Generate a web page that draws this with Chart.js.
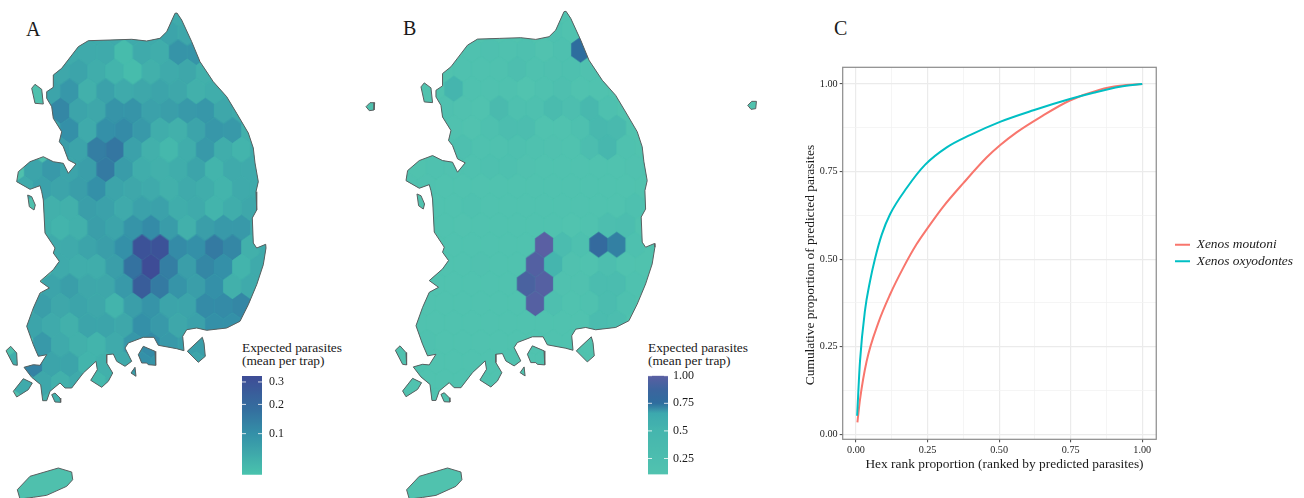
<!DOCTYPE html>
<html>
<head>
<meta charset="utf-8">
<title>Expected parasites</title>
<script src="https://cdn.jsdelivr.net/npm/chart.js@4"></script>
<style>
  html, body { margin: 0; background: #fff; }
  body { position: relative; width: 1304px; height: 498px; overflow: hidden; font-family: "Liberation Serif", serif; color: #1a1a1a; }
  canvas { position: absolute; }
  #mapA, #mapB { filter: blur(0.4px); }
  .letter { position: absolute; font-size: 20px; line-height: 20px; }
  .legend-title { position: absolute; font-size: 13.4px; line-height: 13px; white-space: nowrap; }
</style>
</head>
<body>
<div class="letter" style="left:26px;top:19px">A</div>
<div class="letter" style="left:403px;top:18px">B</div>
<div class="letter" style="left:834px;top:18px">C</div>
<div class="legend-title" style="left:242px;top:341px">Expected parasites<br>(mean per trap)</div>
<div class="legend-title" style="left:648px;top:341px">Expected parasites<br>(mean per trap)</div>
<canvas id="mapA" width="390" height="498" style="left:0;top:0"></canvas>
<canvas id="mapB" width="381" height="498" style="left:389px;top:0"></canvas>
<canvas id="barA" width="60" height="115" style="left:242px;top:368px"></canvas>
<canvas id="barB" width="60" height="115" style="left:648px;top:368px"></canvas>
<canvas id="curves" width="504" height="504" style="left:800px;top:0"></canvas>
<script>
// Coastline, in map units
const mainland = [[177,13],[181.7,20],[191.7,41.7],[200,61.7],[213.3,81.7],[226.7,96.7],[236.7,113.3],[248.3,133],[253.3,148],[255,163],[258.3,181.7],[256,191.7],[256.7,210],[252.3,218],[253.3,243],[256.7,248],[265.7,244.3],[266,248],[263.3,264.7],[256.7,284.7],[248.3,304.7],[240,321.3],[226.7,328],[206.7,330.3],[196.7,328],[186.7,329.7],[182.7,336.3],[184,350.7],[176.7,348.7],[158.3,345.3],[154,337.3],[143.3,337.3],[128.3,343],[125,348],[131.7,361.3],[125,366.3],[116.7,361.3],[113.3,354],[106.7,354.7],[106.7,363],[112.7,373],[108.3,381.3],[101.7,387.3],[90.7,380.3],[97.3,369.7],[96,361.3],[83.3,373],[71.7,388],[65,388],[60,383],[50,391.3],[46.7,400.7],[42.7,400.7],[40.7,384.7],[31.7,377.3],[24,367.3],[33.3,364.7],[40,365.3],[46.7,354.7],[38.3,356.3],[33.3,344.7],[26.7,326.3],[33.3,308],[40,293],[49.3,288],[40,281.3],[53.3,269.7],[59.3,261.3],[53.3,253],[55,248],[45,233],[43.3,200],[41.7,191.7],[40,185.7],[30,189.3],[16.7,181.7],[18.3,171.7],[30,161.7],[43.3,156.7],[53.3,161.7],[63.3,163.3],[68.3,173.3],[76,164],[68.3,160],[63.3,146.7],[59.3,141.7],[61.7,131.7],[53.3,118.3],[51.7,106.7],[46.7,98.3],[46.7,91.7],[53.3,87.3],[53.3,75],[61.7,68.3],[78.3,46.7],[88.3,40.7],[110,40],[131.7,39.3],[146.7,41],[160,38.3],[166.7,31.7],[175,13.3]];
const islands = [
  [[31.7,88.3],[35,84.3],[41.7,89.3],[43.3,104],[35,103.3]],
  [[27.7,195],[31.7,196.7],[35.3,205],[34,210],[29.3,206.7]],
  [[187.3,351.3],[202.3,337.3],[204,343],[205.3,356.3],[198.3,362.3]],
  [[138.3,354.7],[143.3,346.3],[155,351.3],[155.7,365.3],[148.3,364.7],[146.7,363],[141.7,363]],
  [[131,373],[135,367.3],[136,376.3]],
  [[6,350.7],[10.7,346.3],[16.7,353],[17.3,365.3],[13.3,364.7]],
  [[13.3,391.3],[23.3,378.7],[32.3,383],[28.3,389.7],[16.7,397]],
  [[51.7,394.7],[55,393],[60,398],[60.7,402.3],[55,402]],
  [[17.3,489.7],[30,476.3],[58.3,468],[71.7,472],[72.7,479.7],[66.7,486.3],[46.7,495.3],[33.3,497.3],[20,499]]
];
const ulleungA = [[366,106.7],[370,102.7],[374.7,102.7],[374,110],[369.3,110.7]];
const ulleungB = [[359,106.7],[363,102.7],[367.7,102.7],[367,110],[362.3,110.7]];

// Hex rows, top to bottom, in parasites per trap
const hexRowIdsA = [13,12,11,10,9,8,7,6,5,4,3,2,1,0,-1,-2,-3,-4,-5,-6,-7];
const hexRowStartsA = [1,-4,-5,-5,-6,-5,-6,-5,-7,-7,-6,-6,-6,-5,-6,-6,-7,-6,-8,-7,-6];
const hexRowsA = [
  [.05],
  [.05,.05,.05,.05,.05,.06,.055],
  [.05,.05,.05,.025,.05,.045,.09,.09],
  [.055,.06,.045,.035,.025,.04,.05,.055,.04],
  [.06,.085,.04,.065,.05,.055,.06,.055,.04,.045,.05],
  [.12,.06,.055,.09,.09,.065,.07,.08,.085,.055,.05],
  [.06,.1,.05,.1,.11,.08,.045,.04,.06,.085,.08,.04],
  [.07,.06,.14,.16,.065,.04,.03,.045,.08,.045,.035,.05],
  [.06,.08,.06,.07,.15,.075,.045,.04,.045,.06,.035,.05,.05,.05],
  [.05,.065,.06,.07,.1,.06,.055,.05,.04,.05,.045,.035,.05,.05],
  [.04,.04,.07,.065,.05,.065,.065,.045,.05,.035,.045,.055,.05],
  [.04,.035,.04,.07,.06,.09,.11,.075,.04,.07,.08,.08,.05],
  [.05,.05,.06,.07,.1,.3,.3,.11,.1,.15,.12,.04,.05],
  [.05,.045,.045,.07,.17,.33,.14,.07,.12,.1,.035,.05],
  [.06,.07,.055,.055,.08,.25,.15,.09,.07,.1,.04,.05,.05],
  [.07,.055,.06,.055,.035,.07,.09,.06,.06,.11,.11,.12,.1],
  [.06,.05,.04,.06,.06,.055,.1,.08,.055,.065,.1,.1],
  [.08,.05,.04,.035,.05,.085,.11,.08,.07,.07],
  [.045,.13,.06,.06,.035,.04,.05,.1,.09,.06,.06,.075],
  [.05,.055,.04,.05,.03,.04,.07],
  [.04,.05]
];
const hexRowIdsB = [13,12,11,10,9,8,7,6,5,4,3,2,1,0,-1,-2,-3,-4,-5,-6,-7];
const hexRowStartsB = [1,1,-4,-4,-5,-5,-5,-5,-6,-7,-6,-6,-5,-5,-6,-6,-7,-6,-8,-7,-6];
const hexRowsB = [
  [.13],
  [.2,.13],
  [.16,.2,.17,.2,.12,.2,.75],
  [.16,.16,.16,.25,.17,.18,.2,.15],
  [.5,.16,.16,.16,.11,.17,.22,.14,.14],
  [.18,.15,.13,.35,.2,.2,.33,.25,.42,.2],
  [.15,.12,.2,.27,.27,.13,.13,.2,.42,.38],
  [.15,.22,.17,.17,.2,.17,.15,.13,.27,.45,.17],
  [.17,.15,.17,.2,.2,.15,.13,.13,.13,.13,.14,.15,.15],
  [.15,.15,.14,.14,.14,.14,.13,.13,.13,.13,.13,.13,.14],
  [.13,.13,.17,.14,.13,.13,.13,.13,.13,.13,.14,.2],
  [.13,.13,.12,.13,.13,.13,.13,.13,.11,.13,.25,.28],
  [.13,.13,.13,.13,.13,1,.3,.2,.8,.72,.2],
  [.13,.13,.15,.14,.13,.97,.5,.15,.14,.25,.14],
  [.13,.13,.13,.13,.13,.93,.98,.15,.15,.3,.3,.16],
  [.13,.13,.13,.13,.13,.13,.98,.22,.13,.17,.3,.2],
  [.13,.13,.13,.13,.13,.13,.13,.13,.13,.13,.3,.27],
  [.17,.13,.13,.13,.13,.13,.13,.13,.13,.13],
  [.15,.16,.13,.13,.13,.13,.13,.13,.13,.13],
  [.14,.13,.13,.13,.13,.13,.13],
  [.13,.13]
];

// Colour bars
const ticksA = [0.1, 0.2, 0.3];
const ticksB = [0.25, 0.5, 0.75, 1];
const tickLabelsB = ['0.25', '0.5', '0.75', '1.00'];
const rangeA = [0.0174, 0.33];
const rangeB = [0.105, 1];
const stopsA = [[0,'#4ac3ad'],[0.416,'#3490a8'],[0.65,'#34709f'],[1,'#3e4c96']];
const stopsB = [[0,'#51c3af'],[0.45,'#45b5ae'],[0.62,'#3ca9ae'],[0.66,'#3890a8'],[0.72,'#2e6d9e'],[0.85,'#3b659e'],[1,'#5a5fa3']];

// Cumulative curves
const rankMoutoni = [.005,.014,.037,.078,.119,.165,.212,.247,.305,.375,.456,.503,.561,.643,.747,.852,.922,1];
const shareMoutoni = [.034,.099,.208,.318,.399,.475,.543,.585,.65,.717,.79,.825,.862,.905,.953,.984,.995,1];
const rankOxyodontes = [.004,.014,.031,.049,.066,.09,.119,.177,.241,.317,.398,.503,.62,.747,.83,.922,1];
const shareOxyodontes = [.053,.208,.351,.437,.5,.57,.628,.703,.769,.819,.854,.892,.925,.957,.975,.992,1];
const axisTicks = [0,.125,.25,.375,.5,.625,.75,.875,1];

const SERIF = 'Liberation Serif';

function hexToRgb(h) {
  return [1, 3, 5].map(function (i) { return parseInt(h.substr(i, 2), 16); });
}

function rampColor(stops, t) {
  t = Math.min(1, Math.max(0, t));
  for (let i = 1; i < stops.length; i++) {
    if (t <= stops[i][0]) {
      const f = (t - stops[i - 1][0]) / (stops[i][0] - stops[i - 1][0]);
      const a = hexToRgb(stops[i - 1][1]);
      const b = hexToRgb(stops[i][1]);
      return 'rgb(' + a.map(function (c, n) { return Math.round(c + (b[n] - c) * f); }).join(',') + ')';
    }
  }
  return stops[stops.length - 1][1];
}

// pointy-top hexagon used as point style
function hexSprite(color, w, h) {
  const c = document.createElement('canvas');
  c.width = Math.ceil(w) + 2;
  c.height = Math.ceil(h) + 2;
  const g = c.getContext('2d');
  const cx = c.width / 2, cy = c.height / 2;
  g.fillStyle = color;
  g.strokeStyle = color;
  g.lineWidth = 0.6;
  g.beginPath();
  g.moveTo(cx, cy - h / 2);
  g.lineTo(cx + w / 2, cy - h / 4);
  g.lineTo(cx + w / 2, cy + h / 4);
  g.lineTo(cx, cy + h / 2);
  g.lineTo(cx - w / 2, cy + h / 4);
  g.lineTo(cx - w / 2, cy - h / 4);
  g.closePath();
  g.fill();
  g.stroke();
  return c;
}

// keeps hexes inside the coastline
const hexClip = {
  id: 'hexClip',
  beforeDatasetDraw(chart, args, opts) {
    if (!chart.data.datasets[args.index].isHex) return;
    const ctx = chart.ctx;
    const sx = chart.scales.x, sy = chart.scales.y;
    ctx.save();
    ctx.beginPath();
    opts.polys.forEach(function (poly) {
      poly.forEach(function (p, i) {
        const px = sx.getPixelForValue(p[0]), py = sy.getPixelForValue(p[1]);
        if (i === 0) ctx.moveTo(px, py); else ctx.lineTo(px, py);
      });
      ctx.closePath();
    });
    ctx.clip();
  },
  afterDatasetDraw(chart, args) {
    if (chart.data.datasets[args.index].isHex) chart.ctx.restore();
  }
};

function drawMap(id, grid, ids, starts, rows, colorOf, base, ulleung, xr, yr) {
  const polys = [mainland].concat(islands, [ulleung]);
  const toPts = function (poly) {
    return poly.concat([poly[0]]).map(function (p) { return { x: p[0], y: p[1] }; });
  };
  const hexPts = [], sprites = [];
  ids.forEach(function (k, r) {
    rows[r].forEach(function (v, n) {
      const odd = Math.abs(k) % 2 === 1 ? 0.5 : 0;
      hexPts.push({
        x: grid.x0 + grid.dx * (starts[r] + n + odd),
        y: grid.y0 - grid.dy * k
      });
      sprites.push(hexSprite(colorOf(v), grid.dx, grid.dy * 4 / 3));
    });
  });
  const land = polys.map(function (poly) {
    return { data: toPts(poly), showLine: true, fill: 'shape', backgroundColor: base, borderWidth: 0, pointRadius: 0, order: 3, clip: false };
  });
  const coast = polys.map(function (poly) {
    return { data: toPts(poly), showLine: true, fill: false, borderColor: '#5a5f60', borderWidth: 1, pointRadius: 0, order: 1, clip: false };
  });
  const hexes = { isHex: true, data: hexPts, pointStyle: sprites, pointRadius: 5, order: 2, clip: false };
  new Chart(document.getElementById(id), {
    type: 'scatter',
    data: { datasets: land.concat([hexes], coast) },
    options: {
      responsive: false,
      animation: false,
      events: [],
      layout: { autoPadding: false },
      plugins: { legend: { display: false }, tooltip: { enabled: false }, hexClip: { polys: polys } },
      scales: {
        x: { display: false, min: xr[0], max: xr[1] },
        y: { display: false, min: yr[0], max: yr[1], reverse: true }
      }
    },
    plugins: [hexClip]
  });
}

// white ticks on both sides of the colour bar
const barTicks = {
  id: 'barTicks',
  afterDatasetsDraw(chart) {
    const ctx = chart.ctx, a = chart.chartArea;
    ctx.save();
    ctx.strokeStyle = 'rgba(255,255,255,0.8)';
    ctx.lineWidth = 1;
    chart.scales.y.ticks.forEach(function (t) {
      const y = chart.scales.y.getPixelForValue(t.value);
      ctx.beginPath();
      ctx.moveTo(a.left, y); ctx.lineTo(a.left + 4, y);
      ctx.moveTo(a.right - 4, y); ctx.lineTo(a.right, y);
      ctx.stroke();
    });
    ctx.restore();
  }
};

function drawBar(id, lo, hi, stops, tickVals, labels, top, gap) {
  new Chart(document.getElementById(id), {
    type: 'bar',
    data: {
      labels: [''],
      datasets: [{
        data: [[lo, hi]],
        barPercentage: 1,
        categoryPercentage: 1,
        backgroundColor: function (c) {
          const a = c.chart.chartArea;
          if (!a) return stops[0][1];
          const g = c.chart.ctx.createLinearGradient(0, a.bottom, 0, a.top);
          for (let i = 0; i <= 60; i++) g.addColorStop(i / 60, rampColor(stops, i / 60));
          return g;
        }
      }]
    },
    options: {
      responsive: false,
      animation: false,
      events: [],
      layout: { autoPadding: false, padding: { top: top, bottom: 115 - top - 98.8 } },
      plugins: { legend: { display: false }, tooltip: { enabled: false } },
      scales: {
        x: { display: false },
        y: {
          position: 'right',
          min: lo,
          max: hi,
          afterFit: function (s) { s.width = 40; s.paddingTop = 0; s.paddingBottom = 0; },
          afterBuildTicks: function (s) { s.ticks = tickVals.map(function (v) { return { value: v }; }); },
          grid: { display: false, drawTicks: false },
          border: { display: false },
          ticks: {
            padding: gap,
            color: '#1a1a1a',
            font: { family: SERIF, size: 12 },
            autoSkip: false,
            callback: function (v, i) { return labels[i]; }
          }
        }
      }
    },
    plugins: [barTicks]
  });
}

// panel border of the curve plot
const panelBorder = {
  id: 'panelBorder',
  afterDraw(chart) {
    const a = chart.chartArea, ctx = chart.ctx;
    ctx.save();
    ctx.strokeStyle = '#8a8a8a';
    ctx.lineWidth = 1.2;
    ctx.strokeRect(a.left, a.top, a.right - a.left, a.bottom - a.top);
    ctx.restore();
  }
};

// puts the legend beside the panel, at its place in the figure
const legendSpot = {
  id: 'legendSpot',
  afterLayout(chart, args, opts) {
    const l = chart.legend;
    const h = l.bottom - l.top;
    l.left = opts.left;
    l.right = chart.width;
    l.top = opts.centerY - h / 2;
    l.bottom = opts.centerY + h / 2;
  }
};

function isMajor(v) { return Math.abs(v * 4 - Math.round(v * 4)) < 1e-6; }

function gridOpts() {
  return {
    color: function (c) { return c.tick && isMajor(c.tick.value) ? '#ebebeb' : '#f3f3f3'; },
    lineWidth: function (c) { return c.tick && isMajor(c.tick.value) ? 1.2 : 0.8; },
    tickColor: function (c) { return c.tick && isMajor(c.tick.value) ? '#444' : 'rgba(0,0,0,0)'; },
    tickLength: 3,
    tickWidth: 1
  };
}

function pairs(xs, ys) {
  return xs.map(function (x, i) { return { x: x, y: ys[i] }; });
}

function sameTicks(s) {
  s.ticks = axisTicks.map(function (v) { return { value: v }; });
}

function tickLabel(v) { return isMajor(v) ? v.toFixed(2) : ''; }

// Map A
drawMap('mapA', { x0: 151, y0: 267, dx: 18.1, dy: 19.5 }, hexRowIdsA, hexRowStartsA, hexRowsA,
  function (v) {
    return rampColor(stopsA, (Math.sqrt(v) - Math.sqrt(rangeA[0])) / (Math.sqrt(rangeA[1]) - Math.sqrt(rangeA[0])));
  }, '#4fc0ad', ulleungA, [0, 390], [0, 498]);

// Map B
drawMap('mapB', { x0: 146.2, y0: 265.3, dx: 18.13, dy: 19.43 }, hexRowIdsB, hexRowStartsB, hexRowsB,
  function (v) { return rampColor(stopsB, (v - rangeB[0]) / (rangeB[1] - rangeB[0])); },
  '#50c2ae', ulleungB, [-0.33, 381.3], [1.74, 497.9]);

// Colour bar A is spaced on a square root scale
drawBar('barA', Math.sqrt(rangeA[0]), Math.sqrt(rangeA[1]), stopsA, ticksA.map(Math.sqrt), ['0.1', '0.2', '0.3'], 8, 7);
drawBar('barB', rangeB[0], rangeB[1], stopsB, ticksB, tickLabelsB, 7.7, 5);

// Panel C
new Chart(document.getElementById('curves'), {
  type: 'scatter',
  data: {
    datasets: [
      { label: 'Xenos moutoni', data: pairs(rankMoutoni, shareMoutoni), showLine: true, borderColor: '#F8766D', backgroundColor: '#F8766D', borderWidth: 2, pointRadius: 0, pointStyle: 'line', cubicInterpolationMode: 'monotone', order: 2 },
      { label: 'Xenos oxyodontes', data: pairs(rankOxyodontes, shareOxyodontes), showLine: true, borderColor: '#00BFC4', backgroundColor: '#00BFC4', borderWidth: 2, pointRadius: 0, pointStyle: 'line', cubicInterpolationMode: 'monotone', order: 1 }
    ]
  },
  options: {
    responsive: false,
    animation: false,
    events: [],
    plugins: {
      tooltip: { enabled: false },
      legendSpot: { left: 372, centerY: 253 },
      legend: {
        position: 'right',
        labels: {
          usePointStyle: true,
          pointStyleWidth: 15,
          padding: 3,
          color: '#1a1a1a',
          font: { family: SERIF, size: 13.4, style: 'italic' },
          sort: function (a, b) { return a.datasetIndex - b.datasetIndex; }
        }
      }
    },
    scales: {
      x: {
        min: -0.0464,
        max: 1.0489,
        afterBuildTicks: sameTicks,
        afterFit: function (s) { s.height = 64.7; },
        grid: gridOpts(),
        border: { display: false },
        ticks: { padding: 2, color: '#222', font: { family: SERIF, size: 10.2 }, autoSkip: false, maxRotation: 0, callback: tickLabel },
        title: { display: true, text: '\u00a0\u00a0\u00a0Hex rank proportion (ranked by predicted parasites)', color: '#1a1a1a', font: { family: SERIF, size: 13.4 }, padding: { top: 0, bottom: 31 } }
      },
      y: {
        min: -0.0143,
        max: 1.0477,
        afterBuildTicks: sameTicks,
        afterFit: function (s) { s.width = 42.7; },
        grid: gridOpts(),
        border: { display: false },
        ticks: { padding: 2, color: '#222', font: { family: SERIF, size: 10.2 }, autoSkip: false, callback: tickLabel },
        title: { display: true, text: 'Cumulative proportion of predicted parasites\u00a0\u00a0\u00a0\u00a0\u00a0\u00a0\u00a0', color: '#1a1a1a', font: { family: SERIF, size: 13.4 }, padding: { top: 2, bottom: 2 } }
      }
    },
    layout: { padding: { top: 67.3, right: 29 } }
  },
  plugins: [panelBorder, legendSpot]
});
</script>
</body>
</html>
